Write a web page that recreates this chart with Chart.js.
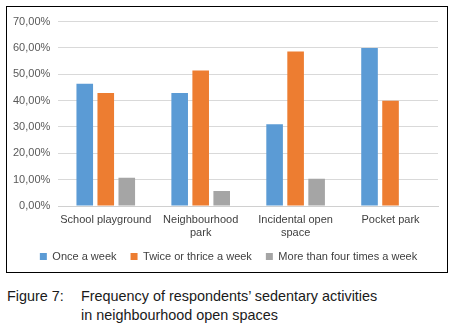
<!DOCTYPE html>
<html><head><meta charset="utf-8">
<script src="https://cdn.jsdelivr.net/npm/chart.js@4/dist/chart.umd.min.js"></script>
<style>
html,body{margin:0;padding:0;background:#fff;width:457px;height:334px;overflow:hidden;font-family:"Liberation Sans",Arial,sans-serif;}
#box{position:absolute;left:6px;top:6px;width:440px;height:265px;border:1px solid #000;}
#wrap{position:absolute;left:0;top:0;width:440px;height:265px;}
.cap{position:absolute;left:7px;top:287px;font-size:14.4px;color:#1a1a1a;line-height:18.5px;}
.cap .n{position:absolute;left:0;top:0;white-space:nowrap;}
.cap .t{position:absolute;left:74px;top:0;white-space:nowrap;}
</style></head><body>
<div id="box"><div id="wrap"><canvas id="c" width="440" height="265"></canvas></div></div>
<div class="cap"><span class="n">Figure 7:</span><span class="t">Frequency of respondents’ sedentary activities<br>in neighbourhood open spaces</span></div>
<script>
const categories = ["School playground","Neighbourhood park","Incidental open space","Pocket park"];
const categoryLines = [["School playground"],["Neighbourhood","park"],["Incidental open","space"],["Pocket park"]];
const seriesNames = ["Once a week","Twice or thrice a week","More than four times a week"];
const onceAWeek = [46.43, 42.86, 31.03, 60.00];
const twiceOrThrice = [42.86, 51.43, 58.62, 40.00];
const moreThanFour = [10.71, 5.71, 10.34, 0];
const yTicks = [0,10,20,30,40,50,60,70];
const colors = ["#5B9BD5","#ED7D31","#A5A5A5"];

Chart.defaults.font.family = '"Liberation Sans", Arial, sans-serif';
Chart.defaults.font.size = 11;
Chart.defaults.color = "#595959";

const legendShift = {
  id: 'legendShift',
  afterLayout(chart) { const l = chart.legend; if (l) { l.left += 6; l.right += 6; } }
};

new Chart(document.getElementById('c'), {
  type: 'bar',
  data: {
    labels: categories,
    datasets: [onceAWeek, twiceOrThrice, moreThanFour].map((d,i)=>({
      label: seriesNames[i], data: d, backgroundColor: colors[i],
      categoryPercentage: 0.664, barPercentage: 0.79
    }))
  },
  plugins: [legendShift],
  options: {
    responsive: false, animation: false,
    layout: {padding: {left: 0, right: 9, top: 6, bottom: 0}},
    plugins: {
      legend: {position: 'bottom', labels: {boxWidth: 7, boxHeight: 7, padding: 14, color: '#404040', font: {size: 11}}},
      tooltip: {enabled: false}
    },
    scales: {
      y: {
        min: 0, max: 70,
        afterBuildTicks: s => { s.ticks = yTicks.map(v=>({value:v})); },
        afterFit: s => { s.width = 51.3; },
        grid: {color: '#d9d9d9', drawTicks: false, lineWidth: 1},
        border: {display: false},
        ticks: {padding: 8, color: '#595959', callback: v => v.toFixed(2).replace('.',',') + '%'}
      },
      x: {
        grid: {display: false, drawTicks: false},
        border: {display: true, color: '#d0d0d0', width: 1},
        afterFit: s => { s.height = 31; s._computeLabelArea = () => undefined; },
        ticks: {padding: 7, color: '#404040', maxRotation: 0, autoSkip: false,
          callback: (v,i) => categoryLines[i]}
      }
    }
  }
});
</script>
</body></html>
